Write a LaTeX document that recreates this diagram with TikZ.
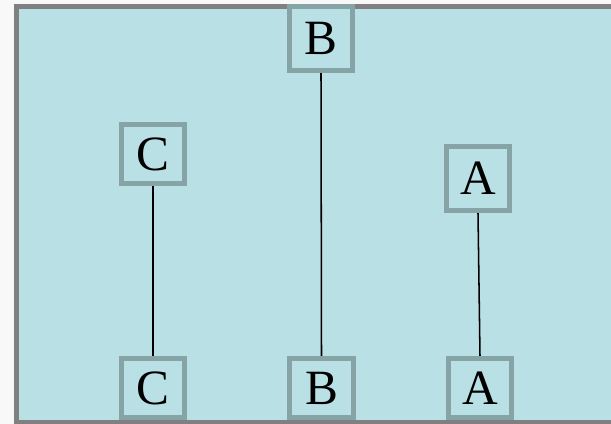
\documentclass[tikz,border=0pt]{standalone}
\usepackage{fontspec}
\setmainfont{Liberation Serif}
\definecolor{pagebg}{RGB}{248,248,248}
\definecolor{panelfill}{RGB}{185,224,228}
\definecolor{panelline}{RGB}{128,128,128}
\definecolor{boxline}{RGB}{134,164,166}
\begin{document}
\begin{tikzpicture}[x=0.75pt,y=-0.75pt,
  letterbox/.style={draw=boxline, fill=panelfill, line width=3.9pt, inner sep=0pt,
    font=\fontsize{37}{37}\selectfont, text=black},
  link/.style={draw=black, line width=1.15pt}]
  \useasboundingbox (0,0) rectangle (611,424);
  \fill[pagebg] (0,0) rectangle (611,424);
  \draw[panelline, fill=panelfill, line width=3.9pt] (16.5,6.5) rectangle (613.5,422.5);
  \node[letterbox, minimum width=47.25pt, minimum height=44.25pt] (Ct) at (153,154) {C};
  \node[letterbox, minimum width=47.25pt, minimum height=44.25pt] (Cb) at (153,388) {C};
  \node[letterbox, minimum width=47.25pt, minimum height=48pt] (Bt) at (321,38.5) {B};
  \node[letterbox, minimum width=48pt, minimum height=44.25pt] (Bb) at (321.5,388) {B};
  \node[letterbox, minimum width=47.25pt, minimum height=48pt] (At) at (478,178.5) {A};
  \node[letterbox, minimum width=47.25pt, minimum height=44.25pt] (Ab) at (480,388) {A};
  \draw[link] (Ct.south) -- (Cb.north);
  \draw[link] (Bt.south) -- (Bb.north);
  \draw[link] (At.south) -- (Ab.north);
\end{tikzpicture}
\end{document}
